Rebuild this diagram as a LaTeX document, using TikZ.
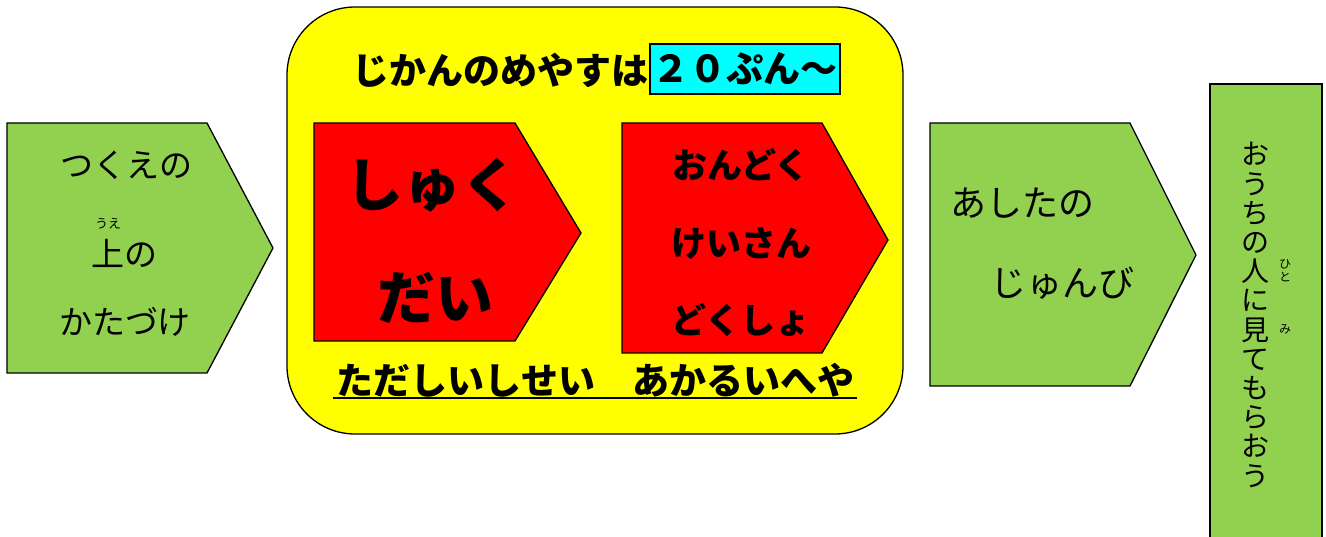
\documentclass[tikz,border=0pt]{standalone}
\usepackage{fontspec}
\newfontfamily\jp{Noto Sans CJK JP}
\definecolor{lgreen}{HTML}{92D050}
\definecolor{ylw}{HTML}{FFFF00}
\definecolor{rd}{HTML}{FF0000}
\definecolor{cyn}{HTML}{00FFFF}
\begin{document}
\begin{tikzpicture}[x=1pt,y=-1pt,
  shp/.style={draw=black, line width=1.3pt, line join=miter},
  jreg/.style={inner sep=0pt, font={\jp\fontsize{#1}{#1}\selectfont}},
  jbold/.style={inner sep=0pt, font={\jp\bfseries\fontsize{#1}{#1}\selectfont}}
]
\useasboundingbox (0,0) rectangle (1326,537);
\fill[white] (0,0) rectangle (1326,537);

% left green pentagon
\draw[shp, fill=lgreen] (7,123) -- (207,123) -- (273,248) -- (207,373) -- (7,373) -- cycle;
\node[jreg=33] (l1) at (126,165) {つくえの};
\node[jreg=33] (l2) at (124,253) {上の};
\node[jreg=13] (l2r) at (108,224) {うえ};
\node[jreg=33] (l3) at (125,322) {かたづけ};

% yellow rounded box
\draw[shp, fill=ylw, rounded corners=68] (287,7) rectangle (903,434);
\node[jbold=37, anchor=east] (t1) at (649,70) {じかんのめやすは};
\node[draw=black, line width=1.3pt, fill=cyn, minimum width=190, minimum height=50, inner sep=0pt,
      font={\jp\bfseries\fontsize{37}{37}\selectfont}] (t2) at (745,69) {２０ぷん～};

% red pentagon 1
\draw[shp, fill=rd] (314,123) -- (515,123) -- (581,233) -- (515,341) -- (314,341) -- cycle;
\node[jbold=58] (s1) at (432,185) {しゅく};
\node[jbold=58] (s2) at (435,298) {だい};

% red pentagon 2
\draw[shp, fill=rd] (622,123) -- (822,123) -- (888,240) -- (822,353) -- (622,353) -- cycle;
\node[jbold=35] (o1) at (741,165) {おんどく};
\node[jbold=35] (o2) at (741,243) {けいさん};
\node[jbold=35] (o3) at (741,320) {どくしょ};

% underlined text
\node[jbold=37] (ul) at (595,380) {ただしいしせい　あかるいへや};
\draw[line width=2pt] (333,398) -- (857,398);

% right green pentagon
\draw[shp, fill=lgreen] (930,123) -- (1130,123) -- (1196,255) -- (1130,386) -- (930,386) -- cycle;
\node[jreg=36] (a1) at (1022,203) {あしたの};
\node[jreg=36] (a2) at (1062,283) {じゅんび};

% vertical box
\draw[shp, fill=lgreen] (1210,84) rectangle (1322,545);
\node[inner sep=0pt, align=center, font={\jp\fontsize{28}{29.2}\selectfont}] (vt) at (1255,315)
  {お\\う\\ち\\の\\人\\に\\見\\て\\も\\ら\\お\\う};
\node[inner sep=0pt, align=center, font={\jp\fontsize{12}{13}\selectfont}] (vr1) at (1285,271) {ひ\\と};
\node[inner sep=0pt, font={\jp\fontsize{12}{12}\selectfont}] (vr2) at (1285,329) {み};
\end{tikzpicture}
\end{document}
